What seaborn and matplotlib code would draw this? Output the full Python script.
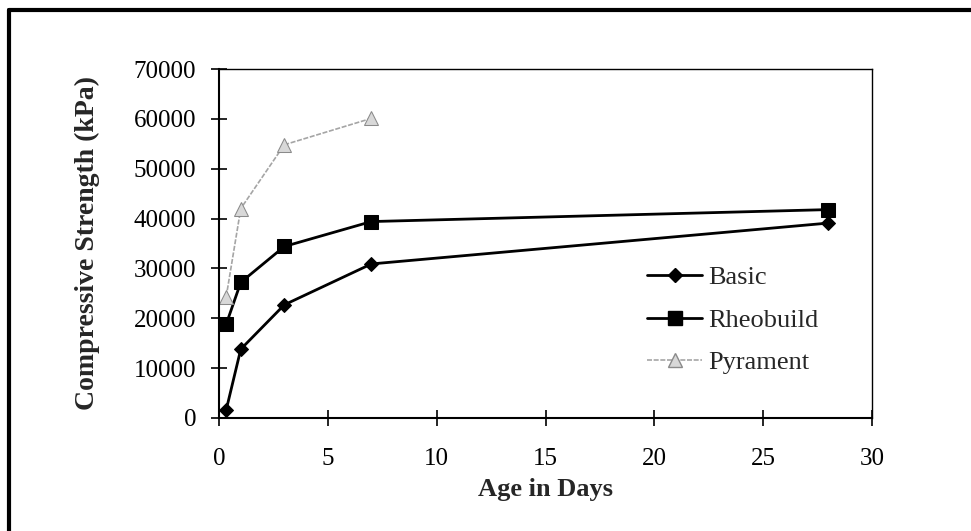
import matplotlib
matplotlib.use("Agg")
import matplotlib.pyplot as plt
from matplotlib.lines import Line2D
import seaborn as sns
import pandas as pd

days = [0.33, 1, 3, 7, 28]
basic = [1600, 13800, 22700, 30900, 39100]
rheobuild = [18800, 27200, 34400, 39400, 41800]
pyrament_days = [0.33, 1, 3, 7]
pyrament = [24300, 42000, 54800, 60100]
series_names = ["Basic", "Rheobuild", "Pyrament"]
x_ticks = [0, 5, 10, 15, 20, 25, 30]
y_ticks = [0, 10000, 20000, 30000, 40000, 50000, 60000, 70000]

df = pd.concat([
    pd.DataFrame({"Age": days, "Strength": basic, "Mix": "Basic"}),
    pd.DataFrame({"Age": days, "Strength": rheobuild, "Mix": "Rheobuild"}),
    pd.DataFrame({"Age": pyrament_days, "Strength": pyrament, "Mix": "Pyrament"}),
])

sns.set_style("white")
plt.rcParams["font.family"] = ["Liberation Serif", "DejaVu Serif"]

fig = plt.figure(figsize=(9.71, 5.31), dpi=100)
ax = fig.add_axes([219/971, 1-418/531, (872-219)/971, (418-69)/531])

styles = {
    "Basic": dict(color="black", lw=2.0, marker="D", ms=7.5, mfc="black", mec="black", ls="-"),
    "Rheobuild": dict(color="black", lw=2.0, marker="s", ms=10.5, mfc="black", mec="black", ls="-"),
    "Pyrament": dict(color="#a5a5a5", lw=1.2, marker="^", ms=10, mfc="#d8d8d8", mec="#8a8a8a", ls=(0, (3, 1))),
}
for name in series_names:
    sub = df[df["Mix"] == name]
    st = styles[name]
    sns.lineplot(data=sub, x="Age", y="Strength", ax=ax, color=st["color"],
                 linewidth=st["lw"], marker=st["marker"], markersize=st["ms"],
                 markerfacecolor=st["mfc"], markeredgecolor=st["mec"],
                 linestyle=st["ls"], label=name, sort=False, legend=False)

ax.set_xlim(0, 30)
ax.set_ylim(0, 70000)
ax.set_xticks(x_ticks)
ax.set_yticks(y_ticks)
ax.set_xticklabels([str(v) for v in x_ticks])
ax.set_yticklabels([str(v) for v in y_ticks])
ax.tick_params(axis="both", direction="inout", length=11, width=1.2, colors="black",
               labelsize=18, bottom=True, left=True)
ax.tick_params(axis="x", pad=16)
ax.tick_params(axis="y", pad=11)
for sp in ax.spines.values():
    sp.set_color("black")
    sp.set_linewidth(1.5)
ax.spines["top"].set_linewidth(1.0)
ax.spines["right"].set_linewidth(1.0)

ax.set_xlabel("Age in Days", fontsize=19, fontweight="bold", labelpad=6)
ax.set_ylabel("Compressive Strength (kPa)", fontsize=20, fontweight="bold", labelpad=24)

handles = [Line2D([], [], color=styles[n]["color"], lw=styles[n]["lw"], ls=styles[n]["ls"],
                  marker=styles[n]["marker"], ms=styles[n]["ms"],
                  mfc=styles[n]["mfc"], mec=styles[n]["mec"]) for n in series_names]
fig.legend(handles, series_names, loc="upper left",
           bbox_to_anchor=(647/971, 1-266/531), bbox_transform=fig.transFigure,
           frameon=False, fontsize=19, handlelength=2.1, handletextpad=0.23,
           labelspacing=0.72, borderpad=0, borderaxespad=0)

# outer frame (top and left edges of the scanned box)
fig.add_artist(Line2D([9/971, 1.0], [1-10/531, 1-10/531], transform=fig.transFigure,
                      color="black", lw=3))
fig.add_artist(Line2D([9/971, 9/971], [0.0, 1-10/531], transform=fig.transFigure,
                      color="black", lw=3))

fig.savefig("out.png", dpi=100, facecolor="white")
